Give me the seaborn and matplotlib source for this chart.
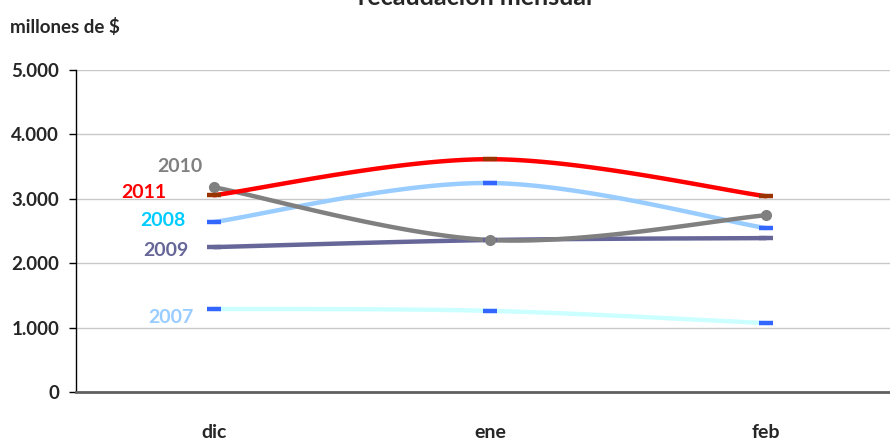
import numpy as np
import pandas as pd
import matplotlib
matplotlib.use("Agg")
import matplotlib.pyplot as plt
import seaborn as sns

sns.set_theme(style="white")
plt.rcParams["font.family"] = ["Lato", "DejaVu Sans"]

months = ["dic", "ene", "feb"]
years = ["2007", "2008", "2009", "2010", "2011"]
v2007 = [1290, 1260, 1070]
v2008 = [2640, 3245, 2545]
v2009 = [2250, 2360, 2390]
v2010 = [3180, 2360, 2745]
v2011 = [3055, 3615, 3040]
series = {"2007": v2007, "2008": v2008, "2009": v2009, "2010": v2010, "2011": v2011}

line_colors = {"2007": "#CCFFFF", "2008": "#99CCFF", "2009": "#666699",
               "2010": "#808080", "2011": "#FF0000"}
marker_colors = {"2007": "#3366FF", "2008": "#3366FF", "2009": "#666699",
                 "2010": "#808080", "2011": "#993300"}
label_colors = {"2007": "#99CCFF", "2008": "#00CCFF", "2009": "#666699",
                "2010": "#808080", "2011": "#FF0000"}
# series name labels, placed left of the first point (x in category units)
label_pos = {"2007": (-0.075, 1150), "2008": (-0.105, 2670), "2009": (-0.094, 2190),
             "2010": (-0.04, 3495), "2011": (-0.173, 3105)}


def smooth(xs, ys, n=60):
    """Bezier smoothing through every point (tension 1/6)."""
    p = np.column_stack([xs, ys]).astype(float)
    ext = np.vstack([p[0], p, p[-1]])
    out = []
    t = np.linspace(0, 1, n)[:, None]
    for i in range(len(p) - 1):
        p0, p1, p2, p3 = ext[i], ext[i + 1], ext[i + 2], ext[i + 3]
        c1 = p1 + (p2 - p0) / 6
        c2 = p2 - (p3 - p1) / 6
        seg = ((1 - t) ** 3) * p1 + 3 * ((1 - t) ** 2) * t * c1 + 3 * (1 - t) * t ** 2 * c2 + t ** 3 * p2
        out.append(seg if i == 0 else seg[1:])
    return np.vstack(out)


fig = plt.figure(figsize=(8.9, 4.4), dpi=100)
ax = fig.add_axes([76 / 890, 1 - 392 / 440, 828 / 890, (392 - 70) / 440])

xpos = np.arange(len(months))
order = ["2007", "2009", "2008", "2010", "2011"]
rows = []
for yr in order:
    curve = smooth(xpos, series[yr])
    for xx, yy in curve:
        rows.append({"x": xx, "y": yy, "year": yr})
df = pd.DataFrame(rows)
sns.lineplot(data=df, x="x", y="y", hue="year", hue_order=order, palette=line_colors,
             linewidth=3.2, sort=False, estimator=None, legend=False, ax=ax)

for yr in order:
    vals = series[yr]
    if yr == "2010":
        ax.plot(xpos, vals, "o", color=marker_colors[yr], markersize=7, zorder=5)
    else:
        ax.plot(xpos, vals, "_", color=marker_colors[yr], markersize=10,
                markeredgewidth=3.2, zorder=5)
    lx, ly = label_pos[yr]
    ax.text(lx, ly, yr, color=label_colors[yr], fontsize=14, fontweight="bold",
            ha="right", va="center")

ax.set_xlim(-0.5, 2.5)
ax.set_ylim(0, 5000)
yt = np.arange(0, 5001, 1000)
ax.set_yticks(yt)
ax.set_yticklabels([f"{v:,}".replace(",", ".") for v in yt], fontsize=13.5, fontweight="bold")
ax.set_xticks(xpos)
ax.set_xticklabels(months, fontsize=14, fontweight="bold")
ax.set_xticks([0.5, 1.5], minor=True)
ax.tick_params(axis="x", which="major", length=0, pad=23)
ax.tick_params(axis="x", which="minor", length=7, width=1, color="#000000", direction="out")
ax.tick_params(axis="y", length=5, width=1, color="#000000", direction="out", left=True, pad=7)
ax.set_xlabel("")
ax.set_ylabel("")
ax.grid(axis="y", color="#C8C8C8", linewidth=1)
ax.grid(axis="x", visible=False)
for s in ["top", "right"]:
    ax.spines[s].set_visible(False)
ax.spines["left"].set_color("#000000")
ax.spines["left"].set_linewidth(1)
ax.spines["bottom"].set_color("#606060")
ax.spines["bottom"].set_linewidth(2)

fig.text(10 / 890, 1 - 27 / 440, "millones de $", fontsize=13.5, fontweight="bold",
         ha="left", va="center")
fig.text(475 / 890, 1 - 5 / 440, "recaudación mensual", fontsize=18, fontweight="bold",
         ha="center", va="baseline")

fig.savefig("out.png", dpi=100)
